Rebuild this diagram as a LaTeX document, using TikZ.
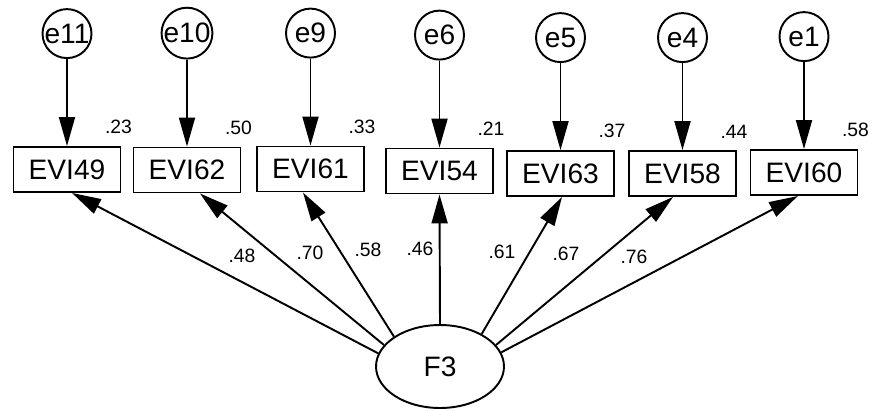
\documentclass[tikz,border=0pt]{standalone}
\usepackage{fontspec}
\setmainfont{Liberation Sans}
\usetikzlibrary{shapes.geometric}
\usetikzlibrary{positioning}
\usetikzlibrary{arrows.meta}

\begin{document}
\begin{tikzpicture}[->,
            >={Triangle[length=0.58cm,width=0.32cm]},
            x = 0.02cm, y = -0.02cm,
            line width = 1.1pt,
            node distance = 1.74cm,
            obs/.style = {draw,minimum width=2.14cm,minimum height=0.9cm,
                inner sep=1pt,font=\fontsize{16}{18}\selectfont},
            err/.style = {draw,circle,minimum size=0.98cm,inner sep=0pt,
                font=\fontsize{16}{18}\selectfont},
            lat/.style = {draw,ellipse,minimum width=2.56cm,minimum height=1.66cm,
                font=\fontsize{16}{18}\selectfont},
            est/.style = {inner sep=0pt,font=\fontsize{11}{13}\selectfont},
            rsq/.style = {est,above=0.22cm of #1,xshift=-0.06cm}]
            \useasboundingbox (0,0) rectangle (872,410);
            % indicators
            \node[obs] (v49) at (67,169.5) {EVI49};
            \node[obs] (v62) at (187,170) {EVI62};
            \node[obs] (v61) at (310.5,169) {EVI61};
            \node[obs] (v54) at (439.5,171) {EVI54};
            \node[obs] (v63) at (560.5,173.5) {EVI63};
            \node[obs] (v58) at (682.5,173.5) {EVI58};
            \node[obs] (v60) at (804,172.5) {EVI60};
            % error terms
            \node[err,above=of v49] (e11) {e11};
            \node[err,above=of v62] (e10) {e10};
            \node[err,above=of v61] (e9) {e9};
            \node[err,above=of v54] (e6) {e6};
            \node[err,above=of v63] (e5) {e5};
            \node[err,above=of v58] (e4) {e4};
            \node[err,above=of v60] (e1) {e1};
            % squared multiple correlations
            \node[rsq=v49.north east] (r49) {.23};
            \node[rsq=v62.north east] (r62) {.50};
            \node[rsq=v61.north east] (r61) {.33};
            \node[rsq=v54.north east] (r54) {.21};
            \node[rsq=v63.north east] (r63) {.37};
            \node[rsq=v58.north east] (r58) {.44};
            \node[rsq=v60.north east] (r60) {.58};
            % factor
            \node[lat] (F3) at (440,366.5) {F3};
            \path
                (e11) edge (v49)
                (e10) edge (v62)
                (e9) edge (v61)
                (e6) edge (v54)
                (e5) edge (v63)
                (e4) edge (v58)
                (e1) edge (v60);
            \path
                (F3.168) edge ([xshift=0.1cm]v49.south)
                (F3.159) edge ([xshift=0.26cm]v62.south)
                (F3.147) edge ([xshift=-0.15cm]v61.south)
                (F3.north) edge (v54.south)
                (F3.38) edge ([xshift=0.03cm]v63.south)
                (F3.21) edge ([xshift=-0.19cm]v58.south)
                (F3.13) edge ([xshift=-0.12cm]v60.south);
            % loadings
            \node[est] (l49) at (242,256) {.48};
            \node[est] (l62) at (310,253) {.70};
            \node[est] (l61) at (368,250) {.58};
            \node[est] (l54) at (420,249) {.46};
            \node[est] (l63) at (502,252) {.61};
            \node[est] (l58) at (566,254) {.67};
            \node[est] (l60) at (634,257) {.76};
        \end{tikzpicture}
\end{document}
